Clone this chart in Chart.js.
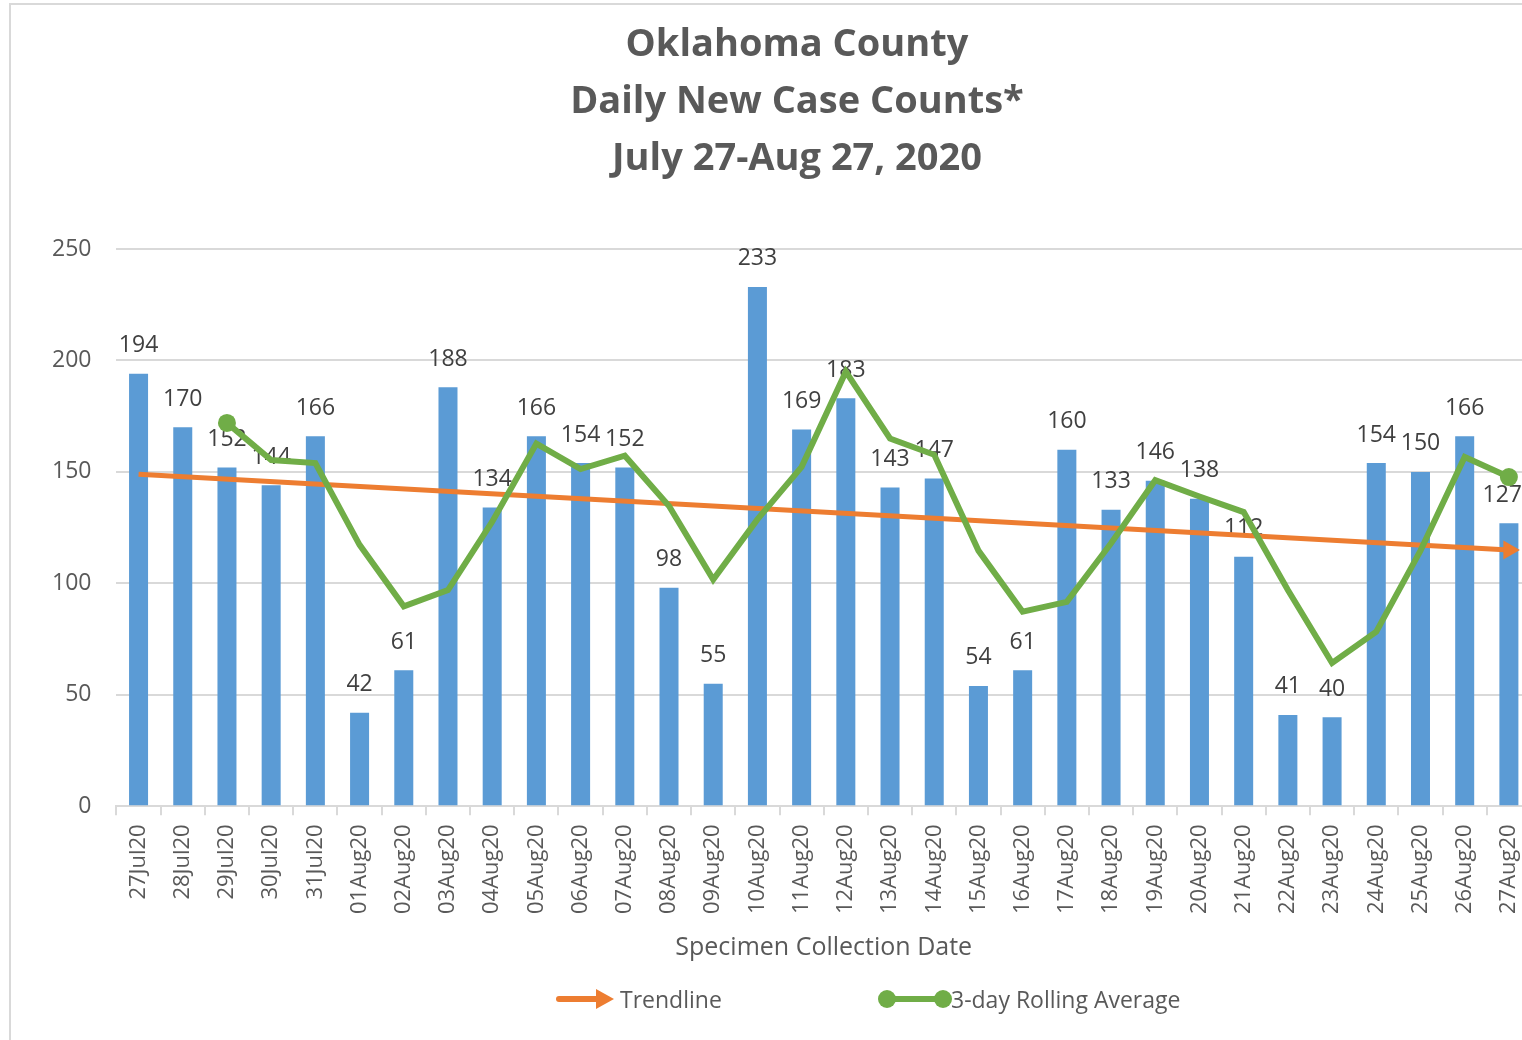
<!DOCTYPE html>
<html>
<head>
<meta charset="utf-8">
<script src="https://cdn.jsdelivr.net/npm/chart.js@4/dist/chart.umd.min.js"></script>
<style>
  html, body { margin: 0; padding: 0; background: #fff; overflow: hidden; }
  #wrap {
    position: absolute; left: 9px; top: 3px;
    width: 1571px; height: 1045px;
    border-left: 2px solid #d9d9d9; border-top: 2px solid #d9d9d9;
  }
  #chart { display: block; }
  .title {
    position: absolute; left: 497px; width: 600px; top: 13px;
    text-align: center; color: #595959;
    font: bold 38px/57px "Open Sans", sans-serif;
  }
  .legend {
    position: absolute; top: 984px;
    font: 23px "Open Sans", sans-serif; color: #595959;
    display: flex; align-items: center; height: 30px;
  }
  .legend svg { display: block; }
</style>
</head>
<body>
<div id="wrap">
  <canvas id="chart" width="1571" height="1045"></canvas>
</div>
<div class="title">Oklahoma County<br>Daily New Case Counts*<br>July 27-Aug 27, 2020</div>
<div class="legend" style="left:556px">
  <svg width="60" height="30"><line x1="3" y1="15" x2="42" y2="15" stroke="#ED7D31" stroke-width="6" stroke-linecap="round"/><polygon points="40,5 58,15 40,25" fill="#ED7D31"/></svg>
  <span style="margin-left:4px">Trendline</span>
</div>
<div class="legend" style="left:877px">
  <svg width="80" height="30"><line x1="10" y1="15" x2="66" y2="15" stroke="#70AD47" stroke-width="6"/><circle cx="10" cy="15" r="9" fill="#70AD47"/><circle cx="66" cy="15" r="9" fill="#70AD47"/></svg>
  <span style="margin-left:-6px">3-day Rolling Average</span>
</div>
<script>
const dates = ['27Jul20', '28Jul20', '29Jul20', '30Jul20', '31Jul20', '01Aug20', '02Aug20', '03Aug20',
  '04Aug20', '05Aug20', '06Aug20', '07Aug20', '08Aug20', '09Aug20', '10Aug20', '11Aug20', '12Aug20',
  '13Aug20', '14Aug20', '15Aug20', '16Aug20', '17Aug20', '18Aug20', '19Aug20', '20Aug20', '21Aug20',
  '22Aug20', '23Aug20', '24Aug20', '25Aug20', '26Aug20', '27Aug20'];

const dailyCases = [194, 170, 152, 144, 166, 42, 61, 188, 134, 166, 154, 152, 98, 55, 233, 169, 183,
  143, 147, 54, 61, 160, 133, 146, 138, 112, 41, 40, 154, 150, 166, 127];

// 3-day rolling average, starts on 29Jul
const rollingAvg = [null, null, 172, 155.3, 154, 117.3, 89.7, 97, 127.7, 162.7, 151.3, 157.3, 134.7,
  101.7, 128.7, 152.3, 195, 165, 157.7, 114.7, 87.3, 91.7, 118, 146.3, 139, 132, 97, 64.3, 78.3,
  114.7, 156.7, 147.7];

// trendline end points (first and last day)
const trendStart = 149;
const trendEnd = 115;

const yTicks = [0, 50, 100, 150, 200, 250];

const trendLine = dates.map((d, i) => i === 0 ? trendStart : (i === dates.length - 1 ? trendEnd : null));
const lastIdx = dates.length - 1;

const textGray = '#595959';

// value labels above the bars, kept inside the visible plot on the right
const barLabels = {
  id: 'barLabels',
  afterDatasetDraw(chart, args) {
    if (args.index !== 0) return;
    const ctx = chart.ctx;
    const maxRight = chart.chartArea.right - 9;
    ctx.save();
    ctx.font = '23px "Open Sans", sans-serif';
    ctx.fillStyle = '#404040';
    ctx.textAlign = 'center';
    ctx.textBaseline = 'middle';
    args.meta.data.forEach((bar, i) => {
      const txt = String(dailyCases[i]);
      const half = ctx.measureText(txt).width / 2;
      const x = Math.min(bar.x, maxRight - half);
      ctx.fillText(txt, x, bar.y - 28);
    });
    ctx.restore();
  }
};

new Chart(document.getElementById('chart'), {
  type: 'bar',
  data: {
    labels: dates,
    datasets: [
      {
        label: 'Daily Cases',
        data: dailyCases,
        backgroundColor: '#5B9BD5',
        barPercentage: 0.43,
        categoryPercentage: 1,
        order: 3
      },
      {
        type: 'line',
        label: 'Trendline',
        data: trendLine,
        spanGaps: true,
        borderColor: '#ED7D31',
        backgroundColor: '#ED7D31',
        borderWidth: 5,
        pointStyle: 'triangle',
        pointRotation: 90,
        pointRadius: trendLine.map((v, i) => i === lastIdx ? 11 : 0),
        pointBorderWidth: 0,
        order: 2
      },
      {
        type: 'line',
        label: '3-day Rolling Average',
        data: rollingAvg,
        borderColor: '#70AD47',
        backgroundColor: '#70AD47',
        borderWidth: 6,
        tension: 0,
        pointRadius: rollingAvg.map((v, i) => (i === 2 || i === lastIdx) ? 9 : 0),
        pointBorderWidth: 0,
        order: 1
      }
    ]
  },
  options: {
    responsive: false,
    animation: false,
    layout: { padding: { left: 16, right: 51, top: 244, bottom: 87 } },
    plugins: {
      legend: { display: false },
      tooltip: { enabled: false },
      title: { display: false }
    },
    scales: {
      x: {
        grid: { display: true, drawOnChartArea: false, offset: true, tickLength: 9, color: '#d9d9d9', lineWidth: 2 },
        border: { display: true, color: '#d9d9d9', width: 2 },
        ticks: {
          color: textGray,
          font: { family: '"Open Sans", sans-serif', size: 22 },
          minRotation: 90, maxRotation: 90, autoSkip: false, padding: 9
        },
        title: {
          display: true,
          text: 'Specimen Collection Date',
          color: textGray,
          font: { family: '"Open Sans", sans-serif', size: 25 },
          padding: { top: 10, bottom: 0 }
        }
      },
      y: {
        min: 0,
        max: 250,
        afterBuildTicks(axis) { axis.ticks = yTicks.map(v => ({ value: v })); },
        grid: { color: '#d9d9d9', lineWidth: 2, drawTicks: false },
        border: { display: false },
        ticks: {
          color: textGray,
          font: { family: '"Open Sans", sans-serif', size: 23 },
          padding: 25
        }
      }
    }
  },
  plugins: [barLabels]
});
</script>
</body>
</html>
